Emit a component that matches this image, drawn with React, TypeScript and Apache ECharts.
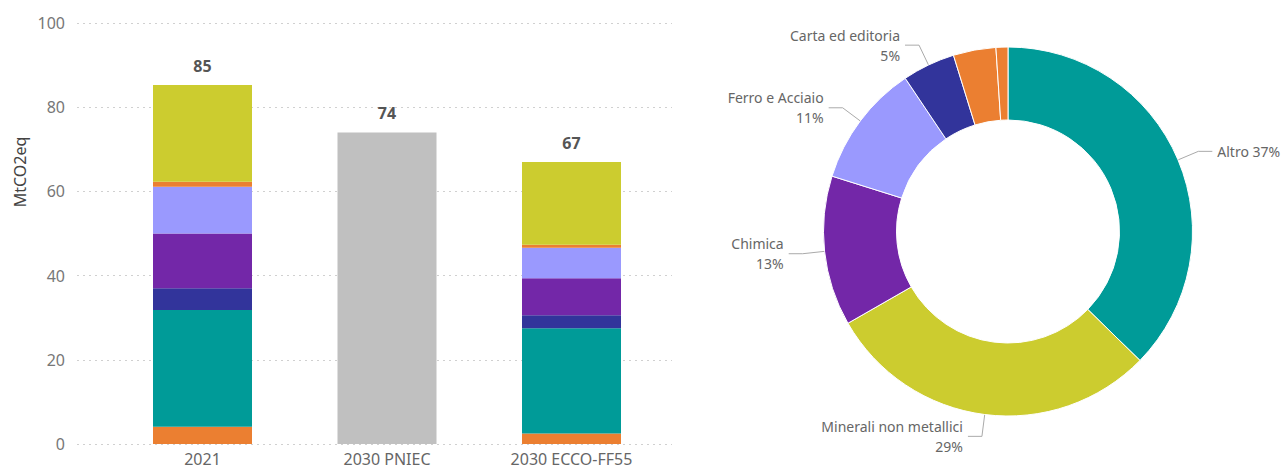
import React, { useEffect, useRef } from "react";
import * as echarts from "echarts";

// ---- Data ----
const categories = ["2021", "2030 PNIEC", "2030 ECCO-FF55"];
const sectorNames = [
  "Altro",
  "Minerali non metallici",
  "Chimica",
  "Ferro e Acciaio",
  "Carta ed editoria",
  "Settore arancione",
  "Settore arancione (minore)",
];
const values2021 = [27.7, 23.0, 13.0, 11.1, 5.2, 4.1, 1.2];
const values2030 = [25.0, 19.7, 8.8, 7.2, 3.1, 2.5, 0.7];
const pniecValue = 74;
const yTicks = [0, 20, 40, 60, 80, 100];
const labelledSectors = [true, true, true, true, true, false, false];

// ---- Styles ----
const sectorColors = ["#009B98", "#CCCC2F", "#7327A8", "#9A99FE", "#32349B", "#EB7F31", "#EB7F31"];
const stackOrder = [5, 0, 4, 2, 3, 6, 1]; // bottom -> top
const FONT = "'Noto Sans', sans-serif";

export default function App() {
  const ref = useRef<HTMLDivElement>(null);

  useEffect(() => {
    document.body.style.margin = "0";
    if (!ref.current) return;
    const chart = echarts.init(ref.current, undefined, { renderer: "svg" });

    const sum = (a: number[]) => a.reduce((s, v) => s + v, 0);
    const totals = [sum(values2021), pniecValue, sum(values2030)];
    const topIdx = stackOrder[stackOrder.length - 1];

    const totalLabel = {
      show: true,
      position: "top",
      distance: 11,
      fontSize: 16,
      fontWeight: "bold",
      color: "#555",
      fontFamily: FONT,
    };

    const barSeries: any[] = stackOrder.map((i) => ({
      type: "bar",
      name: sectorNames[i],
      stack: "tot",
      xAxisIndex: 1,
      yAxisIndex: 1,
      barWidth: 99,
      data: [values2021[i], null, values2030[i]],
      itemStyle: { color: sectorColors[i] },
      label:
        i === topIdx
          ? { ...totalLabel, formatter: (p: any) => String(Math.round(totals[p.dataIndex])) }
          : { show: false },
    }));

    barSeries.push({
      type: "bar",
      name: "2030 PNIEC",
      stack: "tot",
      xAxisIndex: 1,
      yAxisIndex: 1,
      barWidth: 99,
      data: [null, pniecValue, null],
      itemStyle: { color: "#C0C0C0" },
      label: totalLabel,
    });

    const pieData = sectorNames.map((n, i) => ({
      name: n,
      value: values2030[i],
      itemStyle: { color: sectorColors[i] },
      label: labelledSectors[i]
        ? { show: true, formatter: i === 0 ? "{b} {d}%" : "{b}\n{d}%" }
        : { show: false },
      labelLine: { show: labelledSectors[i] },
    }));

    chart.setOption({
      animation: false,
      textStyle: { fontFamily: FONT },
      grid: [
        { left: 77, right: 615, top: 23, bottom: 25 },
        { left: 110.25, right: 623.25, top: 23, bottom: 25 },
      ],
      xAxis: [
        { type: "value", gridIndex: 0, min: 0, max: 1, show: false },
        {
          type: "category",
          gridIndex: 1,
          data: categories,
          axisLine: { show: false },
          axisTick: { show: false },
          axisLabel: {
            fontSize: 16,
            lineHeight: 16,
            color: "#666",
            margin: 7,
            fontFamily: FONT,
          },
        },
      ],
      yAxis: [
        {
          type: "value",
          gridIndex: 0,
          min: yTicks[0],
          max: yTicks[yTicks.length - 1],
          interval: yTicks[1] - yTicks[0],
          axisLine: { show: false },
          axisTick: { show: false },
          axisLabel: { fontSize: 16, color: "#777", margin: 12, fontFamily: FONT },
          splitLine: { lineStyle: { type: [2, 4], color: "#d0d0d0", width: 1 } },
        },
        {
          type: "value",
          gridIndex: 1,
          min: yTicks[0],
          max: yTicks[yTicks.length - 1],
          show: false,
        },
      ],
      graphic: [
        {
          type: "text",
          x: 20,
          y: 172,
          rotation: Math.PI / 2,
          style: {
            text: "MtCO2eq",
            fontSize: 16,
            fill: "#444",
            align: "center",
            verticalAlign: "middle",
            fontFamily: FONT,
          },
        },
      ],
      series: [
        ...barSeries,
        {
          type: "pie",
          center: [1008, 231.5],
          radius: [111.5, 184.5],
          startAngle: 90,
          clockwise: true,
          percentPrecision: 0,
          avoidLabelOverlap: true,
          itemStyle: { borderColor: "#fff", borderWidth: 1 },
          label: {
            color: "#666",
            fontSize: 14,
            lineHeight: 20,
            fontFamily: FONT,
            overflow: "none",
            edgeDistance: 0,
            bleedMargin: 0,
          },
          labelLine: {
            length: 22,
            length2: 14,
            lineStyle: { color: "#aaa", width: 1 },
          },
          data: pieData,
        },
      ],
    });

    return () => chart.dispose();
  }, []);

  return <div ref={ref} style={{ width: 1287, height: 469 }} />;
}
